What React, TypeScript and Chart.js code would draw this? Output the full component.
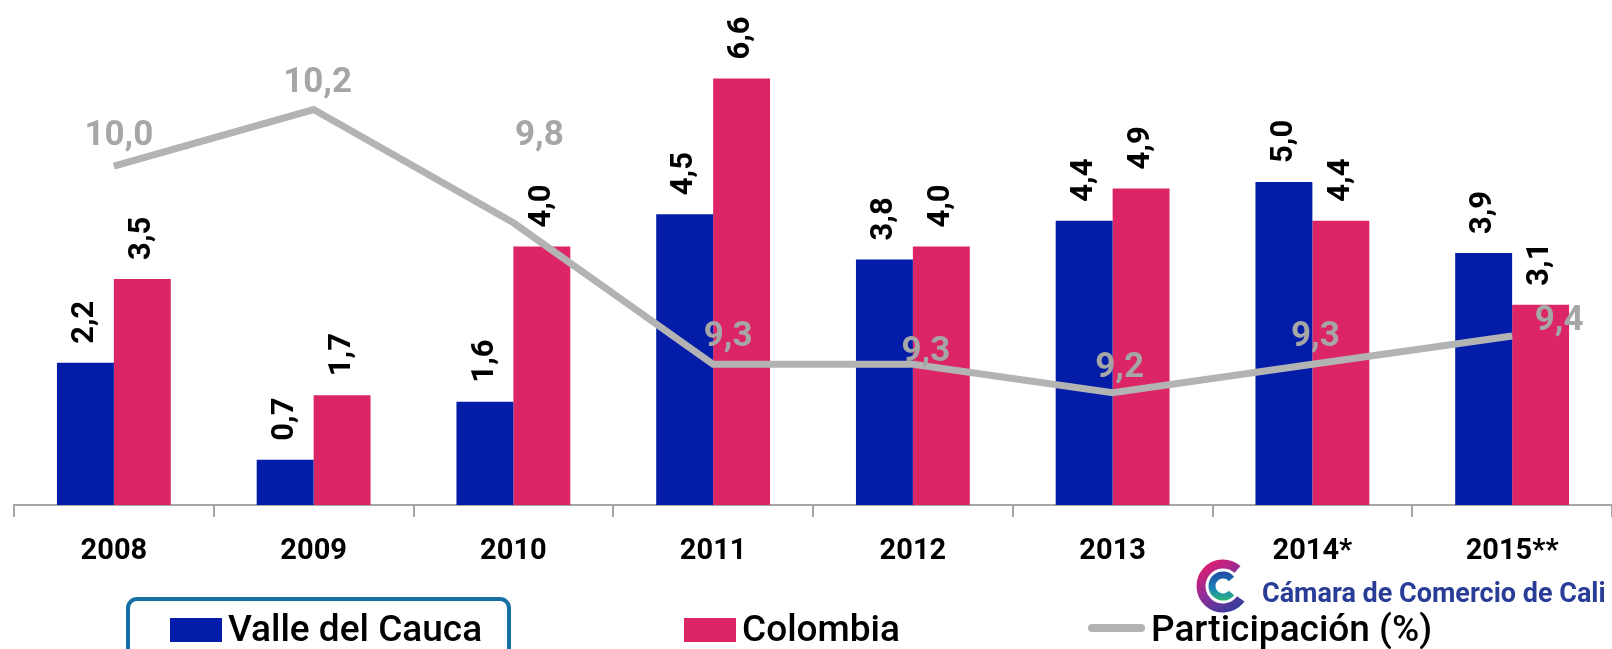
import React, { useEffect, useRef } from 'react';
import { Chart, registerables } from 'chart.js';

Chart.register(...registerables);

// ---- Data ----
const categories = ['2008', '2009', '2010', '2011', '2012', '2013', '2014*', '2015**'];
const valleValues = [2.2, 0.7, 1.6, 4.5, 3.8, 4.4, 5.0, 3.9];
const colombiaValues = [3.5, 1.7, 4.0, 6.6, 4.0, 4.9, 4.4, 3.1];
const participacionValues = [10.0, 10.2, 9.8, 9.3, 9.3, 9.2, 9.3, 9.4];
const seriesNames = ['Valle del Cauca', 'Colombia', 'Participación (%)'];
const logoText = 'Cámara de Comercio de Cali';

// ---- Styling ----
const lineLabelOffsets = [
  [5, -30], [4, -26], [26, -87], [15, -27], [13, -12], [7, -24], [3, -27], [47, -15],
];
const legendItemX = [170, 684, 1088];
const BLUE = '#031da9';
const PINK = '#dc2567';
const GRAY = '#b3b3b3';
const LABEL_GRAY = '#a6a6a6';
const FONT = 'Roboto, "Noto Sans", sans-serif';
const W = 1612;
const H = 649;

const fmt = (v: number) => v.toFixed(1).replace('.', ',');

const labelsPlugin = {
  id: 'customLabels',
  afterDatasetsDraw(chart: any) {
    const ctx = chart.ctx;
    // rotated bar labels
    [1, 2].forEach((di) => {
      const meta = chart.getDatasetMeta(di);
      const vals = chart.data.datasets[di].data as number[];
      meta.data.forEach((bar: any, i: number) => {
        ctx.save();
        ctx.translate(bar.x, bar.y - 19);
        ctx.rotate(-Math.PI / 2);
        ctx.textAlign = 'left';
        ctx.textBaseline = 'middle';
        ctx.font = `bold 31px ${FONT}`;
        ctx.fillStyle = '#000';
        ctx.fillText(fmt(vals[i]), 0, 0);
        ctx.restore();
      });
    });
    // line labels
    const lmeta = chart.getDatasetMeta(0);
    const lvals = chart.data.datasets[0].data as number[];
    lmeta.data.forEach((pt: any, i: number) => {
      const [dx, dy] = lineLabelOffsets[i];
      ctx.save();
      ctx.textAlign = 'center';
      ctx.textBaseline = 'middle';
      ctx.font = `bold 35px ${FONT}`;
      ctx.fillStyle = LABEL_GRAY;
      ctx.fillText(fmt(lvals[i]), pt.x + dx, pt.y + dy);
      ctx.restore();
    });
  },
  afterDraw(chart: any) {
    const ctx = chart.ctx;
    // ---- legend ----
    ctx.save();
    ctx.font = `500 37px ${FONT}`;
    const gap = 6;
    const markerW = [52, 52, 57];
    const colors = [BLUE, PINK, GRAY];
    for (let i = 0; i < 3; i++) {
      const x = legendItemX[i];
      if (i < 2) {
        ctx.fillStyle = colors[i];
        ctx.fillRect(x, 618, markerW[i], 24);
      } else {
        ctx.strokeStyle = GRAY;
        ctx.lineWidth = 8;
        ctx.lineCap = 'round';
        ctx.beginPath();
        ctx.moveTo(x + 4, 628);
        ctx.lineTo(x + markerW[i] - 4, 628);
        ctx.stroke();
      }
      const tx = x + markerW[i] + gap;
      ctx.fillStyle = '#000';
      ctx.textAlign = 'left';
      ctx.textBaseline = 'alphabetic';
      ctx.fillText(seriesNames[i], tx, 641);
      if (i === 0) {
        ctx.strokeStyle = '#1770a4';
        ctx.lineWidth = 4;
        ctx.beginPath();
        (ctx as any).roundRect(128, 599, 381, 70, 9);
        ctx.stroke();
      }
    }
    ctx.restore();

    // ---- logo ----
    ctx.save();
    const cx = 1223;
    const cy = 586;
    const g1 = ctx.createLinearGradient(cx - 20, cy - 25, cx + 15, cy + 25);
    g1.addColorStop(0, '#ec1a6c');
    g1.addColorStop(0.5, '#8a2f9a');
    g1.addColorStop(1, '#2e3f9c');
    ctx.strokeStyle = g1;
    ctx.lineWidth = 9;
    ctx.beginPath();
    ctx.arc(cx, cy, 22, -0.27 * Math.PI, 0.2 * Math.PI, true);
    ctx.stroke();
    const g2 = ctx.createLinearGradient(cx, cy - 14, cx, cy + 14);
    g2.addColorStop(0, '#1f4aa6');
    g2.addColorStop(0.6, '#1e84b8');
    g2.addColorStop(1, '#2bb37a');
    ctx.strokeStyle = g2;
    ctx.lineWidth = 7;
    ctx.beginPath();
    ctx.arc(cx, cy, 11, -0.22 * Math.PI, 0.22 * Math.PI, true);
    ctx.stroke();
    ctx.fillStyle = '#2a3d96';
    ctx.font = `bold 27px ${FONT}`;
    ctx.textAlign = 'left';
    ctx.textBaseline = 'alphabetic';
    ctx.fillText(logoText, 1262, 602);
    ctx.restore();
  },
};

export default function App() {
  const ref = useRef<HTMLCanvasElement | null>(null);
  useEffect(() => {
    if (!ref.current) return;
    const chart = new Chart(ref.current, {
      type: 'bar',
      data: {
        labels: categories,
        datasets: [
          {
            type: 'line',
            label: seriesNames[2],
            data: participacionValues,
            yAxisID: 'y2',
            borderColor: GRAY,
            backgroundColor: GRAY,
            borderWidth: 7,
            pointRadius: 0,
            tension: 0,
            order: 0,
          } as any,
          {
            type: 'bar',
            label: seriesNames[0],
            data: valleValues,
            yAxisID: 'y',
            backgroundColor: BLUE,
            categoryPercentage: 0.57,
            barPercentage: 1.0,
            order: 1,
          },
          {
            type: 'bar',
            label: seriesNames[1],
            data: colombiaValues,
            yAxisID: 'y',
            backgroundColor: PINK,
            categoryPercentage: 0.57,
            barPercentage: 1.0,
            order: 2,
          },
        ],
      },
      options: {
        responsive: false,
        animation: false,
        devicePixelRatio: 1,
        layout: { padding: { left: 14, right: 0, top: 0, bottom: H - 505 - 60 } },
        plugins: {
          legend: { display: false },
          tooltip: { enabled: false },
        },
        scales: {
          x: {
            offset: true,
            grid: {
              display: true,
              drawOnChartArea: false,
              drawTicks: true,
              tickLength: 12,
              color: '#a6a6a6',
              lineWidth: 2,
              offset: true,
            },
            border: { display: true, color: '#a6a6a6', width: 2 },
            ticks: {
              font: { family: FONT, size: 29, weight: 'bold' },
              color: '#000',
              padding: 17,
              maxRotation: 0,
              autoSkip: false,
            },
            afterFit: (s: any) => {
              s.height = 60;
            },
          } as any,
          y: { display: false, min: 0, max: 7.817 },
          y2: { display: false, min: 8.803, max: 10.587, position: 'right' },
        },
      },
      plugins: [labelsPlugin],
    });
    return () => chart.destroy();
  }, []);
  return (
    <div style={{ position: 'absolute', left: 0, top: 0, width: W, height: H, background: '#fff' }}>
      <canvas ref={ref} width={W} height={H} style={{ display: 'block', width: W, height: H }} />
    </div>
  );
}
